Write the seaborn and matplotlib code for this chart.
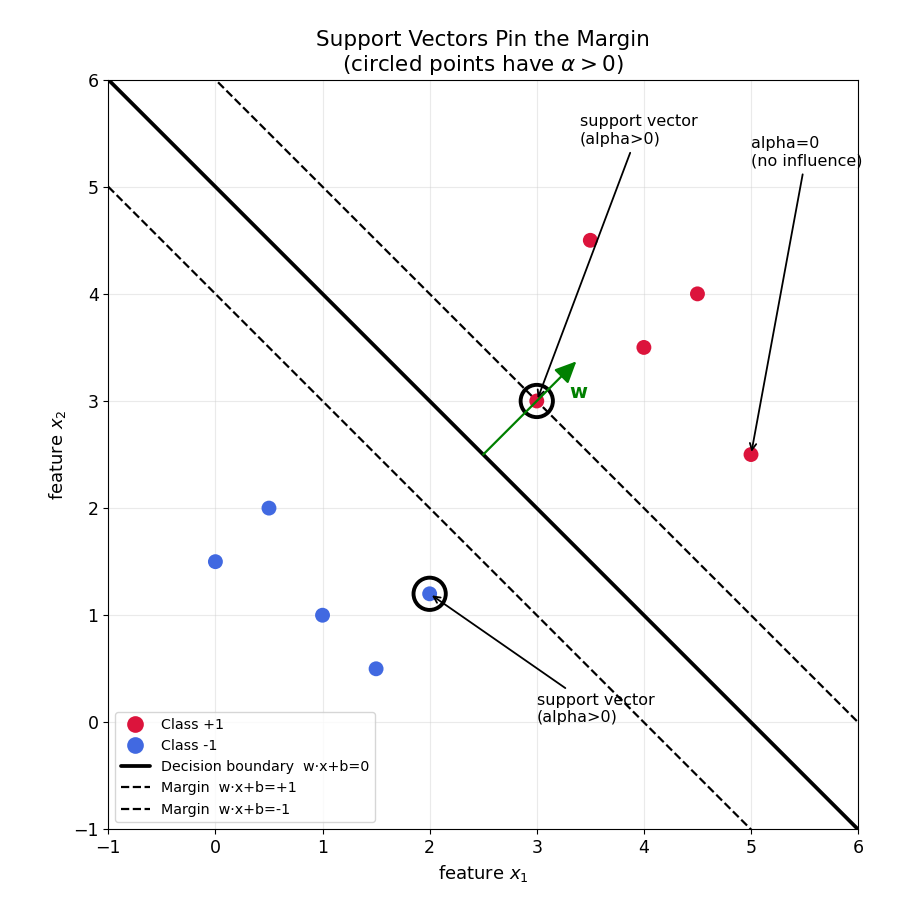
import numpy as np
import pandas as pd
import matplotlib
matplotlib.use("Agg")
import matplotlib.pyplot as plt
import seaborn as sns

pos_x = [3.0, 3.5, 4.0, 4.5, 5.0]
pos_y = [3.0, 4.5, 3.5, 4.0, 2.5]
neg_x = [0.0, 0.5, 1.0, 1.5, 2.0]
neg_y = [1.5, 2.0, 1.0, 0.5, 1.2]
sv_x = [3.0, 2.0]
sv_y = [3.0, 1.2]
w = [1.0, 1.0]
b = -5.0

df = pd.DataFrame({
    "x1": pos_x + neg_x,
    "x2": pos_y + neg_y,
    "cls": ["Class +1"] * 5 + ["Class -1"] * 5,
})

sns.set_style("ticks", rc={"text.color": "black", "axes.labelcolor": "black",
                           "xtick.color": "black", "ytick.color": "black",
                           "axes.edgecolor": "black"})
plt.rcParams['font.family'] = ['DejaVu Sans']
fig = plt.figure(figsize=(9.1, 9.1), dpi=100)
ax = fig.add_axes([0.119, 0.088, 0.824, 0.825])

sns.scatterplot(data=df, x="x1", y="x2", hue="cls",
                palette={"Class +1": "crimson", "Class -1": "royalblue"},
                s=115, edgecolor="none", ax=ax, zorder=3)

xs = np.array([-1.0, 6.0])
for off, ls, lw, lab in [(0, "-", 2.7, "Decision boundary  w·x+b=0"),
                         (1, "--", 1.6, "Margin  w·x+b=+1"),
                         (-1, "--", 1.6, "Margin  w·x+b=-1")]:
    ys = (off - b - w[0] * xs) / w[1]
    ax.plot(xs, ys, color="black", linestyle=ls, linewidth=lw, label=lab, zorder=2)

ax.scatter(sv_x, sv_y, s=540, facecolors="none", edgecolors="black",
           linewidths=2.8, zorder=4)

ax.annotate("", xy=(3.37, 3.37), xytext=(2.5, 2.5),
            arrowprops=dict(arrowstyle="-|>,head_length=1.3,head_width=0.6",
                            color="green", lw=1.6, shrinkA=0, shrinkB=0), zorder=5)
ax.text(3.3, 3.03, "w", color="green", fontsize=14, fontweight="bold")

fs = 11.5
ax.annotate("support vector\n(alpha>0)", xy=(3.0, 3.0), xytext=(3.4, 5.4),
            fontsize=fs, arrowprops=dict(arrowstyle="->", color="black", lw=1.3))
ax.annotate("alpha=0\n(no influence)", xy=(5.0, 2.5), xytext=(5.0, 5.2),
            fontsize=fs, arrowprops=dict(arrowstyle="->", color="black", lw=1.3))
ax.annotate("support vector\n(alpha>0)", xy=(2.0, 1.2), xytext=(3.0, 0.0),
            fontsize=fs, arrowprops=dict(arrowstyle="->", color="black", lw=1.3))

ax.set_xlim(-1, 6)
ax.set_ylim(-1, 6)
ax.set_aspect("equal")
ax.grid(True, alpha=0.4)
ax.set_xlabel("feature $x_1$", fontsize=13)
ax.set_ylabel("feature $x_2$", fontsize=13)
ax.set_title("Support Vectors Pin the Margin\n(circled points have $\\alpha > 0$)", fontsize=15.5)
ax.tick_params(labelsize=12.5)
for s in ax.spines.values():
    s.set_visible(True)
    s.set_color("black")

ax.legend(loc="lower left", fontsize=10.3, frameon=True, markerscale=1.12)

fig.savefig("out.png", dpi=100)
